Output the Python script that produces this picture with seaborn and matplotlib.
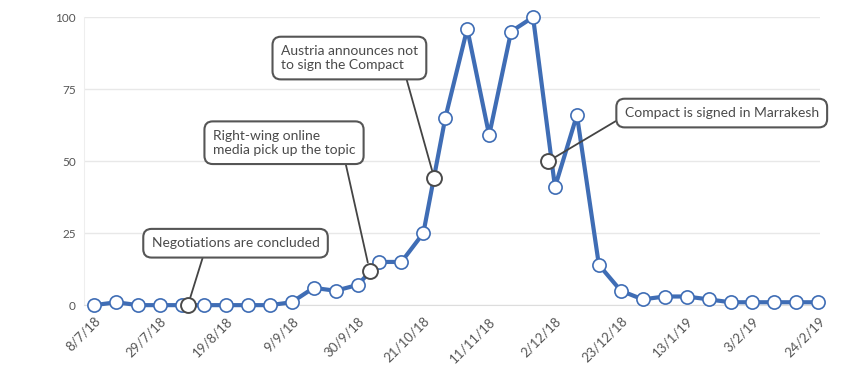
import matplotlib
matplotlib.use("Agg")
import matplotlib.pyplot as plt
import seaborn as sns
import pandas as pd

# weekly values, 8/7/18 .. 24/2/19
weeks = ["8/7/18", "15/7/18", "22/7/18", "29/7/18", "5/8/18", "12/8/18", "19/8/18",
         "26/8/18", "2/9/18", "9/9/18", "16/9/18", "23/9/18", "30/9/18", "7/10/18",
         "14/10/18", "21/10/18", "28/10/18", "4/11/18", "11/11/18", "18/11/18",
         "25/11/18", "2/12/18", "9/12/18", "16/12/18", "23/12/18", "30/12/18",
         "6/1/19", "13/1/19", "20/1/19", "27/1/19", "3/2/19", "10/2/19", "17/2/19",
         "24/2/19"]
values = [0, 1, 0, 0, 0, 0, 0, 0, 0, 1, 6, 5, 7, 15, 15, 25, 65, 96, 59, 95,
          100, 41, 66, 14, 5, 2, 3, 3, 2, 1, 1, 1, 1, 1]

# events (week position, value)
event_labels = ["Negotiations are concluded",
                "Right-wing online\nmedia pick up the topic",
                "Austria announces not\nto sign the Compact",
                "Compact is signed in Marrakesh"]
event_x = [4.27, 12.55, 15.5, 20.7]
event_y = [0, 12, 44, 50]

df = pd.DataFrame({"week": range(len(values)), "value": values})

sns.set_style("white")
plt.rcParams["font.family"] = ["Lato", "DejaVu Sans"]

fig = plt.figure(figsize=(8.5, 3.65), dpi=100)
ax = fig.add_axes([0.099, 0.164, 0.866, 0.789])

blue = "#3f6db5"
sns.lineplot(data=df, x="week", y="value", ax=ax, color=blue, linewidth=3,
             marker="o", markersize=9.5, markerfacecolor="white",
             markeredgecolor=blue, markeredgewidth=1.2, clip_on=False, zorder=3)

ax.scatter(event_x, event_y, s=115, facecolor="white", edgecolor="#4a4a4a",
           linewidth=1.4, zorder=5, clip_on=False)

box_pos = [(6.44, 21.5), (8.65, 56.4), (11.63, 85.8), (28.6, 66.7)]
rel = [(0.32, 0), (0.92, 0), (0.9, 0), (0, 0.27)]
for lab, px, py, bp, rp in zip(event_labels, event_x, event_y, box_pos, rel):
    ax.annotate(lab, xy=(px, py), xytext=bp, ha="center", va="center",
                multialignment="left", fontsize=10, color="#4a4a4a",
                bbox=dict(boxstyle="round,pad=0.6,rounding_size=0.6",
                          fc="white", ec="#555555", lw=1.5),
                arrowprops=dict(arrowstyle="-", color="#444444", lw=1.3,
                                relpos=rp, shrinkA=0, shrinkB=6),
                zorder=6)

ax.set_xlim(-0.46, 33.09)
ax.set_ylim(0, 100)
ax.set_yticks([0, 25, 50, 75, 100])
ax.set_xticks(range(0, len(weeks), 3))
ax.set_xticklabels(weeks[::3], rotation=45, ha="right", rotation_mode="anchor",
                   fontsize=9.5, color="#555555")
ax.tick_params(axis="y", labelsize=8.5, colors="#555555", length=0, pad=6)
ax.tick_params(axis="x", length=0, pad=7)
ax.set_xlabel("")
ax.set_ylabel("")
ax.grid(axis="y", color="#e8e8e8", linewidth=1)
for s in ["top", "right"]:
    ax.spines[s].set_visible(False)
ax.spines["left"].set_color("#eeeeee")
ax.spines["bottom"].set_color("#dddddd")

fig.savefig("out.png", dpi=100)
